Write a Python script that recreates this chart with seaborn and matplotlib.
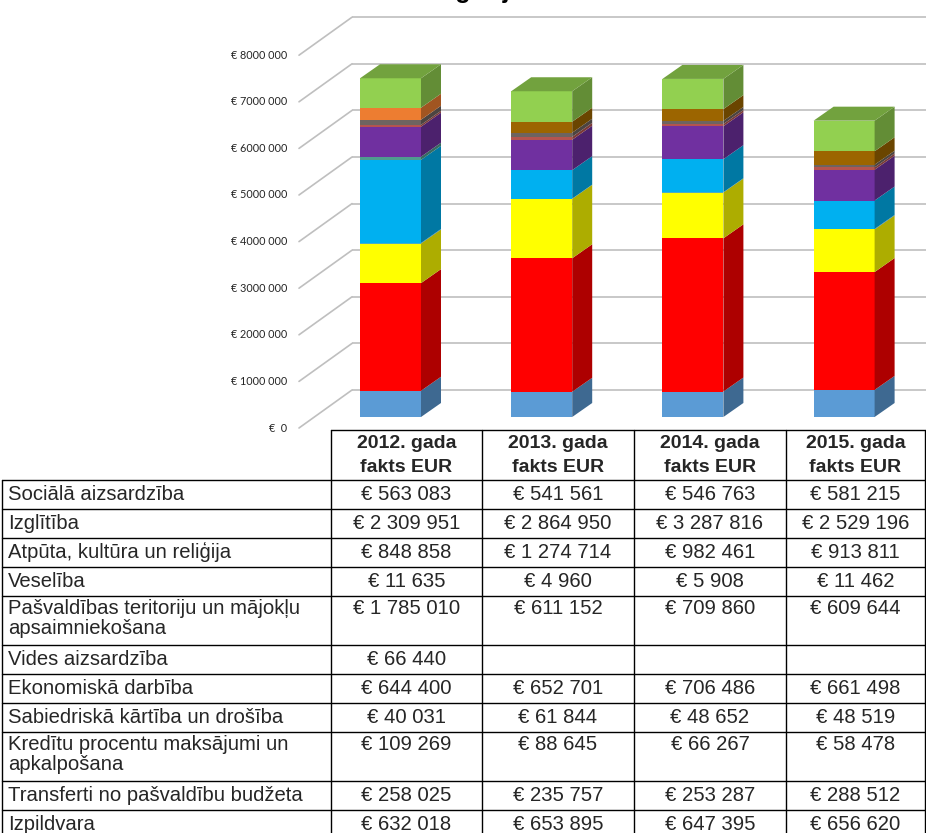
import matplotlib
matplotlib.use('Agg')
import numpy as np
import pandas as pd
import matplotlib.pyplot as plt
import matplotlib.colors as mcolors
import seaborn as sns

# data from the budget table (EUR)
years = ["2012", "2013", "2014", "2015"]
col_headers = ["2012. gada\nfakts EUR", "2013. gada\nfakts EUR",
               "2014. gada\nfakts EUR", "2015. gada\nfakts EUR"]
categories = [
    "Sociālā aizsardzība",
    "Izglītība",
    "Atpūta, kultūra un reliģija",
    "Veselība",
    "Pašvaldības teritoriju un mājokļu\napsaimniekošana",
    "Vides aizsardzība",
    "Ekonomiskā darbība",
    "Sabiedriskā kārtība un drošība",
    "Kredītu procentu maksājumi un\napkalpošana",
    "Transferti no pašvaldību budžeta",
    "Izpildvara",
]
socialais = [563083, 541561, 546763, 581215]
izglitiba = [2309951, 2864950, 3287816, 2529196]
atputa = [848858, 1274714, 982461, 913811]
veseliba = [11635, 4960, 5908, 11462]
pasvaldibas = [1785010, 611152, 709860, 609644]
vides = [66440, None, None, None]
ekonomiska = [644400, 652701, 706486, 661498]
sabiedriska = [40031, 61844, 48652, 48519]
krediti = [109269, 88645, 66267, 58478]
transferti = [258025, 235757, 253287, 288512]
izpildvara = [632018, 653895, 647395, 656620]
series = [socialais, izglitiba, atputa, veseliba, pasvaldibas, vides,
          ekonomiska, sabiedriska, krediti, transferti, izpildvara]

# front face colours per series (one per year)
colors = [
    ["#5B9BD5"] * 4,
    ["#FF0000"] * 4,
    ["#FFFF00"] * 4,
    ["#4BACC6"] * 4,
    ["#00B0F0"] * 4,
    ["#4F9D8F"] * 4,
    ["#7030A0"] * 4,
    ["#B4544F"] * 4,
    ["#6E6460"] * 4,
    ["#ED7D31", "#9C6500", "#9C6500", "#9C6500"],
    ["#92D050"] * 4,
]

grid_vals = [i * 1000000 for i in range(9)]

W, H = 926, 833
fig = plt.figure(figsize=(W / 100, H / 100), dpi=100)
sns.set_style("white")
plt.rcParams['font.family'] = ['Liberation Sans', 'DejaVu Sans']

# ---- chart area (pixel based scale helpers) ----
CH = 440                     # chart height in px from top
X0, XSTEP = 390.5, 151.2     # centre of first bar, spacing
BASE, PXM = 417.0, 46.6      # front base row and px per million
ax = fig.add_axes([0, (H - CH) / H, 1, CH / H])


def xu(px):
    return px / XSTEP


def yu(px):
    return px / PXM * 1e6


def shade(c, f):
    r, g, b = mcolors.to_rgb(c)
    return (r * f, g * f, b * f)


# back wall gridlines and diagonal side lines
back_off = yu(BASE - 390)
front_off = yu(428 - BASE)
for v in grid_vals:
    ax.plot([xu(352 - X0), xu(W - X0)], [v + back_off] * 2,
            color="#BFBFBF", lw=1.2, zorder=1, solid_capstyle="butt")
    ax.plot([xu(299 - X0), xu(352 - X0)], [v - front_off, v + back_off],
            color="#BFBFBF", lw=1.2, zorder=1)
    if v == 0:
        lab = "€  0"
    else:
        lab = f"€ {v // 1000:d} {v % 1000:03d}"
    ax.text(xu(287 - X0), v - front_off, lab, ha="right", va="center",
            fontsize=7.8, color="#262626", family=["Lato", "DejaVu Sans"])

# stacked bars (front faces) with seaborn
bw = 61 / XSTEP
ddx, ddy = xu(20), yu(14)
bottom = np.zeros(len(years))
for vals, cols in zip(series, colors):
    v = np.array([0 if x is None else x for x in vals], dtype=float)
    df = pd.DataFrame({"year": years, "value": v})
    n_before = len(ax.patches)
    sns.barplot(data=df, x="year", y="value", order=years, color=cols[0],
                bottom=bottom, width=bw, saturation=1, linewidth=0,
                errorbar=None, ax=ax, zorder=3)
    for p, c in zip(ax.patches[n_before:], cols):
        p.set_facecolor(c)
    # side faces for the depth effect
    for i in range(len(years)):
        if v[i] <= 0:
            continue
        xr = i + bw / 2
        y0, y1 = bottom[i], bottom[i] + v[i]
        ax.fill([xr, xr + ddx, xr + ddx, xr],
                [y0, y0 + ddy, y1 + ddy, y1],
                color=shade(cols[i], 0.68), lw=0, zorder=3)
    bottom = bottom + v

# top faces on the highest segment
top_col = colors[-1]
for i in range(len(years)):
    xl, xr = i - bw / 2, i + bw / 2
    t = bottom[i]
    ax.fill([xl, xl + ddx, xr + ddx, xr], [t, t + ddy, t + ddy, t],
            color=shade(top_col[i], 0.78), lw=0, zorder=3)

ax.set_xlim(-X0 / XSTEP, (W - X0) / XSTEP)
ax.set_ylim(-yu(CH - BASE), yu(BASE))
ax.set_axis_off()

# partially visible title at the very top
fig.text(283 / W, 1 + 2 / H, "Izdevumu kategorijas", fontsize=18,
         fontweight="bold", ha="left", va="baseline", color="black")

# ---- data table ----
tb = fig.add_axes([0, 0, 1, 1])
tb.set_xlim(0, W)
tb.set_ylim(H, 0)
tb.set_axis_off()

col_x = [331, 482, 634, 786, 925]
left_x = 2
head_top, head_h = 430, 50
row_h1, row_h2 = 29, 49
lw = 1.0
fs = 14.6
fs_head = 14

# header
tb.plot([col_x[0], col_x[-1]], [head_top, head_top], color="black", lw=lw)
for j, hdr in enumerate(col_headers):
    cx = (col_x[j] + col_x[j + 1]) / 2
    l1, l2 = hdr.split("\n")
    tb.text(cx, head_top + 13, l1, ha="center", va="center",
            fontsize=fs_head, fontweight="bold")
    tb.text(cx, head_top + 37, l2, ha="center", va="center",
            fontsize=fs_head, fontweight="bold")

y = head_top + head_h
tb.plot([left_x, col_x[-1]], [y, y], color="black", lw=lw)
row_tops = []
for cat in categories:
    nl = cat.count("\n") + 1
    h = row_h1 if nl == 1 else row_h2
    row_tops.append((y, h))
    y += h
    tb.plot([left_x, col_x[-1]], [y, y], color="black", lw=lw)

# vertical lines
bottom_y = y
for cx in col_x:
    tb.plot([cx, cx], [head_top, bottom_y], color="black", lw=lw)
tb.plot([left_x, left_x], [head_top + head_h, bottom_y], color="black", lw=lw)

for (top, h), cat, vals in zip(row_tops, categories, series):
    lines = cat.split("\n")
    if len(lines) == 1:
        tb.text(8, top + h / 2, cat, ha="left", va="center", fontsize=fs)
    else:
        for k, ln in enumerate(lines):
            tb.text(8, top + 13 + k * 20, ln, ha="left", va="center",
                    fontsize=fs)
    for j, val in enumerate(vals):
        if val is None:
            continue
        s = f"€ {val:,}".replace(",", " ")
        cx = (col_x[j] + col_x[j + 1]) / 2
        ty = top + h / 2 if len(lines) == 1 else top + 13
        tb.text(cx, ty, s, ha="center", va="center", fontsize=fs)

fig.savefig("out.png", dpi=100)
